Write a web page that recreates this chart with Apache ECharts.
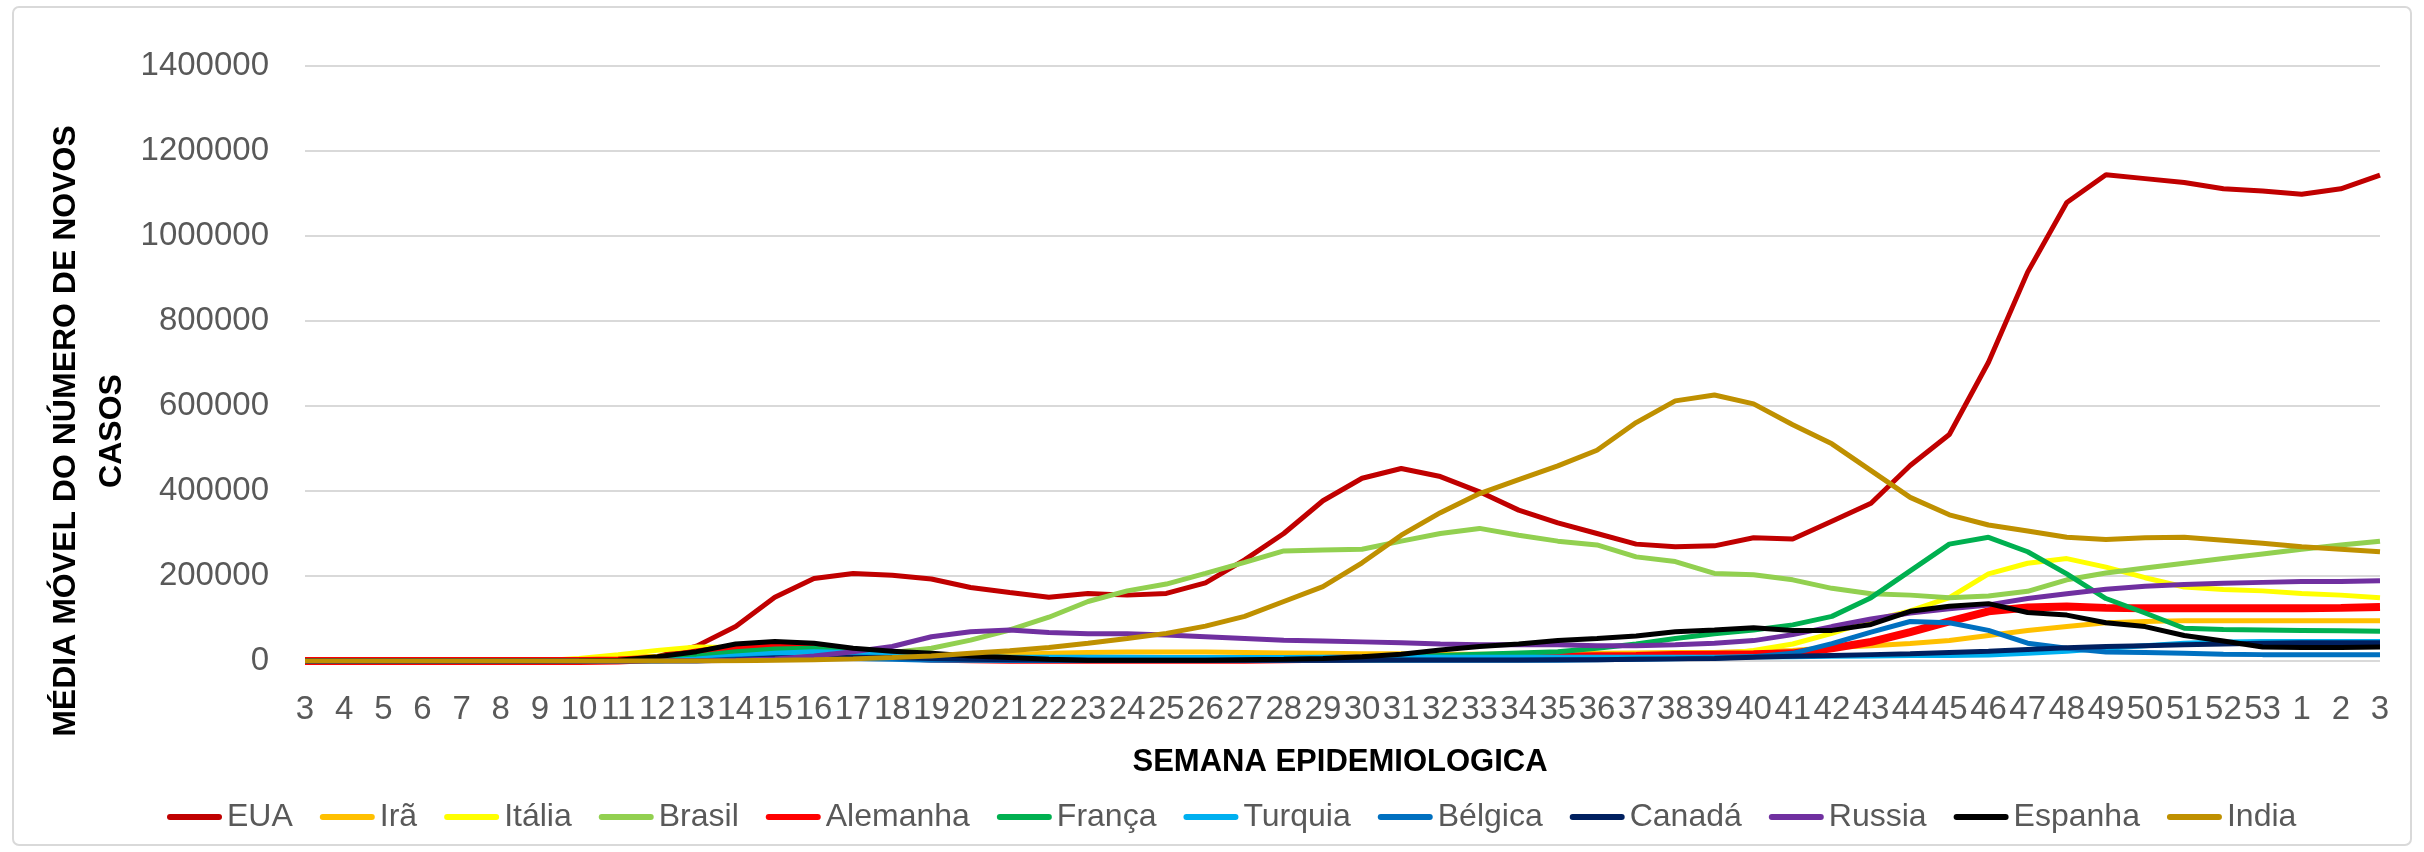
<!DOCTYPE html>
<html>
<head>
<meta charset="utf-8">
<title>Média móvel do número de novos casos</title>
<script src="https://cdn.jsdelivr.net/npm/echarts@6/dist/echarts.min.js"></script>
<style>
  html, body { margin: 0; padding: 0; background: #fff; }
  #chart { width: 2424px; height: 852px; }
</style>
</head>
<body>
<div id="chart"></div>
<script>
// semanas epidemiologicas: 3..53 de 2020, depois 1..3 de 2021
const semanas = ["3","4","5","6","7","8","9","10","11","12","13","14","15","16","17","18","19","20",
  "21","22","23","24","25","26","27","28","29","30","31","32","33","34","35","36","37","38","39","40",
  "41","42","43","44","45","46","47","48","49","50","51","52","53","1","2","3"];

const yTicks = [0, 200000, 400000, 600000, 800000, 1000000, 1200000, 1400000];

const paises = ["EUA", "Irã", "Itália", "Brasil", "Alemanha", "França", "Turquia", "Bélgica", "Canadá", "Russia", "Espanha", "India"];

const eua = [0,0,0,0,0,0,0,500,2000,10000,35000,81000,150000,194000,206000,202000,193000,173000,161000,150000,
  159000,155000,159000,184000,238000,300000,377000,430000,453000,434000,398000,355000,325000,300000,275000,269000,
  271000,290000,287000,329000,371000,460000,533000,703000,915000,1079000,1144000,1135000,1126000,1111000,1106000,
  1098000,1111000,1143000];
const ira = [0,0,0,0,0,0,1000,4000,8000,11000,15000,18000,14000,10000,8000,8000,9000,12000,15000,18000,
  20000,21000,21000,21000,20000,19000,18000,17000,17000,16000,16000,16000,17000,18000,19000,20000,
  20000,23000,25000,32000,36000,41000,48000,60000,72000,81000,90000,93000,95000,95000,95000,
  95000,95000,95000];
const italia = [0,0,0,0,0,0,500,6000,15000,25000,33000,32000,28000,22000,17000,12000,8000,5000,3500,2500,
  2000,1800,1500,1500,1500,1700,2000,2500,3000,4000,5000,7000,8000,10000,11000,13000,
  15000,25000,40000,65000,95000,118000,149000,205000,230000,241000,221000,196000,174000,168000,165000,
  159000,155000,149000];
const brasil = [0,0,0,0,0,0,0,0,0,0,1000,2000,5000,8000,13000,20000,30000,49000,73000,103000,
  140000,165000,181000,206000,232000,259000,261000,263000,282000,300000,312000,296000,282000,273000,245000,234000,
  206000,203000,191000,171000,158000,155000,149000,153000,164000,191000,207000,219000,230000,241000,252000,
  263000,273000,282000];
const alemanha = [0,0,0,0,0,0,0,0,1000,5000,20000,32000,38000,35000,20000,10000,6000,4000,3000,3000,
  3000,3000,3000,3000,3000,4000,5000,6000,8000,9000,9000,9000,10000,11000,12000,14000,
  15000,16000,18000,30000,45000,68000,93000,117000,126000,128000,125000,124000,124000,124000,124000,
  124000,125000,127000];
const franca = [0,0,0,0,0,0,0,0,0,3000,12000,22000,28000,30000,20000,10000,5000,3000,3000,3000,
  3000,3000,3000,3000,3000,3000,4000,6000,9000,13000,16000,19000,22000,30000,40000,53000,
  64000,73000,85000,105000,149000,212000,275000,291000,257000,205000,147000,113000,77000,74000,73000,
  72000,71000,70000];
const turquia = [0,0,0,0,0,0,0,0,0,0,5000,12000,18000,22000,20000,15000,12000,10000,9000,9000,
  9000,9000,8000,8000,8000,8000,9000,9000,9000,9000,9000,9000,9000,9000,9000,9000,
  9000,10000,10000,11000,12000,13000,13000,14000,18000,23000,30000,36000,42000,45000,46000,
  46000,46000,46000];
const belgica = [0,0,0,0,0,0,0,0,0,0,0,5000,8000,8000,6000,4000,2000,1500,1000,1000,
  1000,1000,1000,1000,1500,1500,1500,1500,1500,1500,2000,2000,2000,3000,4000,5000,
  7000,10000,18000,41000,68000,93000,90000,72000,42000,30000,21000,20000,18000,16000,15000,
  15000,15000,15000];
const canada = [0,0,0,0,0,0,0,0,0,0,0,3000,7000,9000,9000,8000,6000,4000,3000,2500,
  2000,2000,2000,2000,2000,2000,2000,2500,2500,2500,2500,2500,3000,3000,4000,5000,
  6000,9000,11000,13000,15000,17000,20000,23000,27000,31000,34000,36000,38000,40000,42000,
  43000,43000,43000];
const russia = [0,0,0,0,0,0,0,0,0,0,0,2000,5000,12000,22000,34000,57000,69000,73000,67000,
  64000,64000,61000,57000,53000,49000,47000,45000,43000,40000,38000,38000,38000,36000,36000,38000,
  42000,48000,62000,81000,99000,113000,123000,132000,147000,158000,169000,176000,180000,183000,185000,
  187000,187000,189000];
const espanha = [0,0,0,0,0,0,0,500,2000,10000,22000,40000,46000,42000,30000,23000,18000,12000,8000,4000,
  2000,2000,2000,2000,3000,4000,6000,10000,16000,26000,34000,40000,48000,53000,59000,69000,
  73000,78000,72000,72000,86000,117000,129000,135000,114000,108000,90000,81000,60000,47000,33000,
  32000,32000,33000];
const india = [0,0,0,0,0,0,0,0,0,0,200,500,1500,3000,5000,8000,12000,18000,24000,32000,
  42000,53000,65000,82000,105000,140000,175000,231000,296000,349000,394000,427000,459000,496000,561000,612000,
  626000,605000,556000,511000,448000,385000,344000,320000,306000,291000,286000,290000,291000,284000,277000,
  269000,263000,257000];

const valores = [eua, ira, italia, brasil, alemanha, franca, turquia, belgica, canada, russia, espanha, india];
const cores = ["#C00000", "#FFC000", "#FFFF00", "#92D050", "#FF0000", "#00B050", "#00B0F0", "#0070C0", "#002060", "#7030A0", "#000000", "#BF9000"];
const larguras = [5, 5, 5, 5, 8, 5, 5, 5, 5, 5, 5, 5];

const fonte = "Liberation Sans";

const options = {
  animation: false,
  backgroundColor: "#fff",
  grid: {
    left: 305,
    top: 66,
    width: 2075,
    height: 595,
    containLabel: false,
  },
  legend: {
    data: paises,
    left: 162,
    top: 794,
    itemWidth: 55,
    itemHeight: 6,
    itemGap: 27,
    icon: "path://M3,0H52A3,3,0,0,1,52,6H3A3,3,0,0,1,3,0Z",
    textStyle: {
      fontFamily: fonte,
      fontSize: 32,
      lineHeight: 36,
      color: "#595959",
    },
  },
  xAxis: {
    type: "category",
    data: semanas,
    boundaryGap: false,
    axisLine: { show: false },
    axisTick: { show: false },
    axisLabel: {
      interval: 0,
      margin: 32,
      fontFamily: fonte,
      fontSize: 33,
      lineHeight: 33,
      color: "#595959",
    },
  },
  yAxis: {
    type: "value",
    min: yTicks[0],
    max: yTicks[yTicks.length - 1],
    interval: yTicks[1] - yTicks[0],
    axisLine: { show: false },
    axisTick: { show: false },
    axisLabel: {
      margin: 36,
      fontFamily: fonte,
      fontSize: 33,
      color: "#595959",
      formatter: (v) => String(v),
    },
    splitLine: {
      lineStyle: { color: "#D9D9D9", width: 2 },
    },
  },
  series: paises.map((nome, i) => ({
    name: nome,
    type: "line",
    data: valores[i],
    symbol: "none",
    color: cores[i],
    lineStyle: { width: larguras[i], color: cores[i] },
    emphasis: { disabled: true },
  })),
  graphic: [
    {
      type: "rect",
      shape: { x: 13, y: 7, width: 2398, height: 838, r: 6 },
      style: { fill: "none", stroke: "#D9D9D9", lineWidth: 2 },
      silent: true,
    },
    {
      type: "text",
      x: 1340,
      y: 762,
      style: {
        text: "SEMANA EPIDEMIOLOGICA",
        fontFamily: fonte,
        fontWeight: "bold",
        fontSize: 31,
        fill: "#000",
        align: "center",
        verticalAlign: "middle",
      },
    },
    {
      type: "text",
      x: 89,
      y: 431,
      rotation: Math.PI / 2,
      style: {
        text: "MÉDIA MÓVEL DO NÚMERO DE NOVOS\nCASOS",
        fontFamily: fonte,
        fontWeight: "bold",
        fontSize: 32,
        lineHeight: 46,
        fill: "#000",
        align: "center",
        verticalAlign: "middle",
      },
    },
  ],
};

const chart = echarts.init(document.getElementById("chart"));
chart.setOption(options);
window.addEventListener("resize", () => {
  chart.resize();
});
</script>
</body>
</html>
